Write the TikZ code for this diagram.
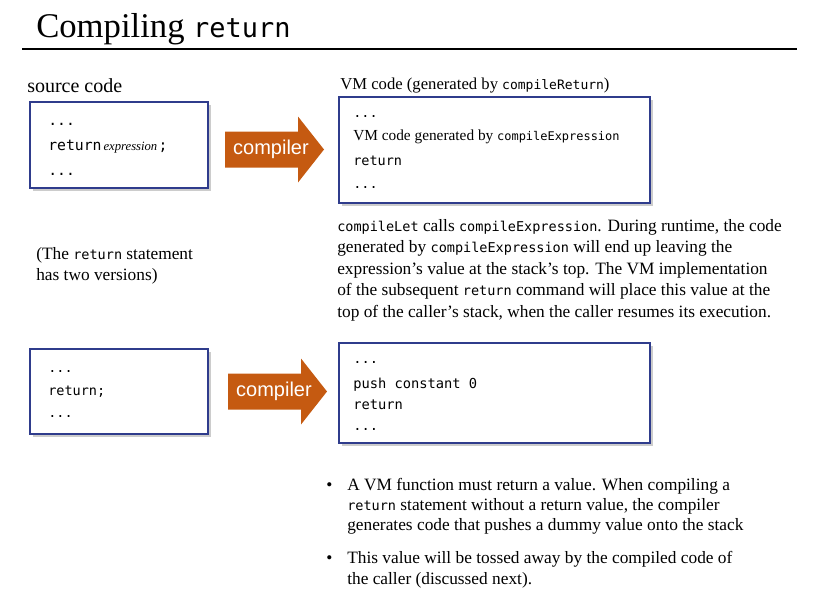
\documentclass[tikz,border=0pt]{standalone}
\usepackage{fontspec}
\setmainfont{Liberation Serif}
\setsansfont{Liberation Sans}
\setmonofont{DejaVu Sans Mono}[Scale=0.78]
\usetikzlibrary{shadows}

\definecolor{boxblue}{RGB}{47,60,140}
\definecolor{cmporange}{RGB}{197,90,17}

\tikzset{
  codebox/.style={draw=boxblue, line width=1.1pt, fill=white, inner sep=0pt,
    drop shadow={shadow xshift=2pt, shadow yshift=-2pt, fill=black!40, opacity=.5}},
  txt/.style={anchor=base west, inner sep=0pt, font=\fontsize{13}{15}\selectfont},
  code/.style={txt, font=\fontsize{13}{15}\selectfont\ttfamily},
  cmplabel/.style={inner sep=0pt, text=white, font=\sffamily\fontsize{15}{17}\selectfont}
}

\begin{document}
\begin{tikzpicture}[x=0.75pt, y=-0.75pt]
    \useasboundingbox (0,0) rectangle (816,600);

    % Title
    \node[txt, font=\fontsize{26}{30}\selectfont] (title) at (36,37)
        {Compiling {\fontsize{25.9}{28}\selectfont\ttfamily return}};
    \draw[line width=1.5pt] (22,49) -- (797,49);

    % Headings
    \node[txt, font=\fontsize{15}{17}\selectfont] (srchead) at (27,92) {source code};
    \node[txt, font=\fontsize{12.5}{15}\selectfont] (vmhead) at (340,89)
        {VM code (generated by \texttt{compileReturn})};

    % Boxes
    \node[codebox, minimum width=133.5pt, minimum height=64.5pt] (srcA) at (119,145) {};
    \node[codebox, minimum width=233.25pt, minimum height=79.5pt] (vmA) at (494.5,150) {};
    \node[codebox, minimum width=133.5pt, minimum height=63.75pt] (srcB) at (119,391.5) {};
    \node[codebox, minimum width=233.25pt, minimum height=75pt] (vmB) at (494.5,393) {};

    % Source code, first version
    \node[code, font=\fontsize{14.2}{16}\selectfont\ttfamily] (srcA-1) at (48,125) {...};
    \node[code, font=\fontsize{14.2}{16}\selectfont\ttfamily] (srcA-2) at (48,150)
        {return\hspace{1.5pt}{\rmfamily\itshape\fontsize{9.5}{11}\selectfont expression}\hspace{1pt};};
    \node[code, font=\fontsize{14.2}{16}\selectfont\ttfamily] (srcA-3) at (48,175) {...};

    % VM code, first version
    \node[code] (vmA-1) at (353,117) {...};
    \node[txt, font=\fontsize{11.5}{13}\selectfont] (vmA-2) at (353,140)
        {VM code generated by \texttt{compileExpression}};
    \node[code] (vmA-3) at (353,165) {return};
    \node[code] (vmA-4) at (353,188) {...};

    % Source code, second version
    \node[code] (srcB-1) at (48,372) {...};
    \node[code] (srcB-2) at (48,395) {return;};
    \node[code] (srcB-3) at (48,417) {...};

    % VM code, second version
    \node[code, font=\fontsize{13.2}{15}\selectfont\ttfamily] (vmB-1) at (353,363) {...};
    \node[code, font=\fontsize{13.2}{15}\selectfont\ttfamily] (vmB-2) at (353,388) {push constant 0};
    \node[code, font=\fontsize{13.2}{15}\selectfont\ttfamily] (vmB-3) at (353,409) {return};
    \node[code, font=\fontsize{13.2}{15}\selectfont\ttfamily] (vmB-4) at (353,430) {...};

    % Compiler arrows
    \foreach \n/\x/\y in {cmpA/225/149.5, cmpB/228/391.5} {
        \fill[cmporange] (\x,\y-18) -- ++(73,0) -- ++(0,-15) -- ++(26,33)
            -- ++(-26,33) -- ++(0,-15) -- ++(-73,0) -- cycle;
        \node[cmplabel] (\n) at (\x+46,\y) {compiler};
    }

    % Side remark
    \node[txt] (rem-1) at (36,259) {(The \texttt{return} statement};
    \node[txt] (rem-2) at (36,280) {has two versions)};

    % Explanation
    \foreach \t [count=\i] in {
        {\texttt{compileLet} calls \texttt{compileExpression}. During runtime, the code},
        {generated by \texttt{compileExpression} will end up leaving the},
        {expression’s value at the stack’s top. The VM implementation},
        {of the subsequent \texttt{return} command will place this value at the},
        {top of the caller’s stack, when the caller resumes its execution.}}
        \node[txt] (note-\i) at (337,209.5+21.5*\i) {\t};

    % Bullets
    \node[txt] (dotA) at (326,490) {•};
    \node[txt] (bulA-1) at (347,490) {A VM function must return a value. When compiling a};
    \node[txt] (bulA-2) at (347,510) {\texttt{return} statement without a return value, the compiler};
    \node[txt] (bulA-3) at (347,530) {generates code that pushes a dummy value onto the stack};
    \node[txt] (dotB) at (326,563) {•};
    \node[txt] (bulB-1) at (347,563) {This value will be tossed away by the compiled code of};
    \node[txt] (bulB-2) at (347,584) {the caller (discussed next).};
\end{tikzpicture}
\end{document}
